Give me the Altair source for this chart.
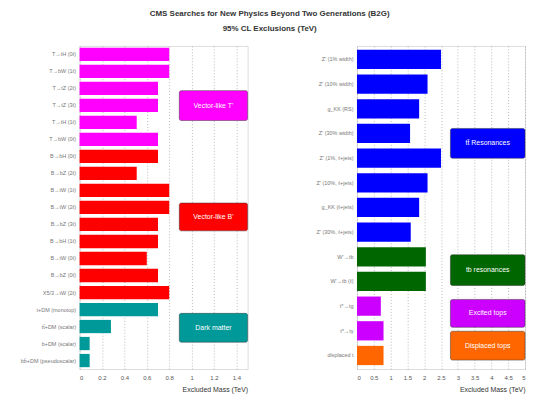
import altair as alt
import pandas as pd

FONT = "Liberation Sans"

# ---- left panel data ----
left_labels = [
    "T→tH (0ℓ)", "T→bW (1ℓ)", "T→tZ (2ℓ)", "T→tZ (3ℓ)", "T→tH (1ℓ)", "T→bW (0ℓ)",
    "B→bH (0ℓ)", "B→bZ (2ℓ)", "B→tW (1ℓ)", "B→tW (2ℓ)", "B→bZ (3ℓ)", "B→bH (1ℓ)",
    "B→tW (0ℓ)", "B→bZ (0ℓ)", "X5/3→tW (2ℓ)",
    "t+DM (monotop)", "tt̄+DM (scalar)", "b+DM (scalar)", "bb̄+DM (pseudoscalar)",
]
left_values = [0.80, 0.80, 0.70, 0.70, 0.51, 0.70,
               0.70, 0.51, 0.80, 0.80, 0.70, 0.70, 0.60, 0.70, 0.80,
               0.70, 0.28, 0.09, 0.09]
left_groups = ["T"] * 6 + ["B"] * 9 + ["DM"] * 4
left_ticks = [0, 0.2, 0.4, 0.6, 0.8, 1, 1.2, 1.4]
left_box_text = ["Vector-like T'", "Vector-like B'", "Dark matter"]
left_box_group = ["T", "B", "DM"]

# ---- right panel data ----
right_labels = [
    "Z' (1% width)", "Z' (10% width)", "g_KK (RS)", "Z' (30% width)",
    "Z' (1%, ℓ+jets)", "Z' (10%, ℓ+jets)", "g_KK (ℓ+jets)", "Z' (30%, ℓ+jets)",
    "W'→tb", "W'→tb (ℓ)", "t*→tg", "t*→tγ", "displaced t",
]
right_values = [2.5, 2.1, 1.85, 1.58, 2.5, 2.1, 1.85, 1.6, 2.05, 2.05, 0.71, 0.79, 0.79]
right_groups = ["tt"] * 8 + ["tb"] * 2 + ["ex"] * 2 + ["disp"]
right_ticks = [0, 0.5, 1, 1.5, 2, 2.5, 3, 3.5, 4, 4.5, 5]
right_box_text = ["tt̄ Resonances", "tb resonances", "Excited tops", "Displaced tops"]
right_box_group = ["tt", "tb", "ex", "disp"]

group_domain = ["T", "B", "DM", "tt", "tb", "ex", "disp"]
group_colors = ["#ff00ff", "#ff0000", "#009999", "#0000ff", "#006600", "#cc00ff", "#ff6600"]
color_scale = alt.Scale(domain=group_domain, range=group_colors)

W, H = 169, 325
XTITLE = "Excluded Mass (TeV)"


def panel(labels, values, groups, ticks, xmax, box_text, box_group, box_x0, box_px, extent, pin, pout):
    df = pd.DataFrame({"label": labels, "value": values, "group": groups})
    xscale = alt.Scale(domain=[0, xmax], nice=False, zero=True)
    xaxis = alt.Axis(values=ticks, grid=True, gridDash=[1, 2], gridColor="#aaa",
                     gridWidth=0.8, ticks=False, domain=False, format="~g",
                     labelFontSize=6, labelColor="#555", labelFont=FONT,
                     labelPadding=6, labelFlush=True, labelOverlap=False,
                     titleAnchor="end", titleFontSize=7, titleColor="#333",
                     titleFont=FONT, titleFontWeight="normal", titlePadding=5)
    bars = alt.Chart(df).mark_bar(opacity=1).encode(
        y=alt.Y("label:N", sort=None, title=None,
                scale=alt.Scale(paddingInner=pin, paddingOuter=pout),
                axis=alt.Axis(labelFontSize=5.5, labelColor="#777", labelFont=FONT,
                              ticks=False, domain=False, labelPadding=4,
                              minExtent=extent, maxExtent=extent, labelLimit=extent)),
        x=alt.X("value:Q", scale=xscale, title=XTITLE, axis=xaxis),
        color=alt.Color("group:N", scale=color_scale, legend=None),
    )
    layers = [bars]
    for txt, grp, (y0, y1) in zip(box_text, box_group, box_px):
        bdf = pd.DataFrame({"group": [grp], "txt": [txt], "x0": [box_x0], "x1": [xmax]})
        rect = alt.Chart(bdf).mark_rect(cornerRadius=2, stroke="#333", strokeWidth=0.8,
                                        strokeOpacity=0.6).encode(
            x=alt.X("x0:Q", scale=xscale, title=XTITLE, axis=xaxis), x2="x1:Q",
            y=alt.value(y0), y2=alt.value(y1),
            color=alt.Color("group:N", scale=color_scale, legend=None),
        )
        bdf2 = bdf.assign(xm=(box_x0 + xmax) / 2)
        text = alt.Chart(bdf2).mark_text(color="white", fontSize=7, font=FONT).encode(
            x=alt.X("xm:Q", scale=xscale, title=XTITLE, axis=xaxis),
            y=alt.value((y0 + y1) / 2), text="txt:N",
        )
        layers += [rect, text]
    return alt.layer(*layers).properties(width=W, height=H)


left = panel(left_labels, left_values, left_groups, left_ticks, 1.5,
             left_box_text, left_box_group, 0.89,
             [(45, 75), (158, 186), (269, 298)], 66, 0.22, 0.11)
right = panel(right_labels, right_values, right_groups, right_ticks, 5.0,
              right_box_text, right_box_group, 2.78,
              [(83, 113), (210, 241), (255, 283), (287, 316)], 58, 0.22, 0.16)

chart = alt.hconcat(left, right, spacing=50).properties(
    title=alt.TitleParams(
        text="CMS Searches for New Physics Beyond Two Generations (B2G)",
        subtitle="95% CL Exclusions (TeV)",
        anchor="middle", fontSize=8, subtitleFontSize=8, font=FONT, subtitleFont=FONT,
        fontWeight="bold", subtitleFontWeight="bold", color="#333", subtitleColor="#333",
        subtitlePadding=8, offset=12,
    ),
    padding={"left": 5, "top": 0, "right": 0, "bottom": 5},
).configure_view(stroke="black", strokeWidth=1.2).configure(background="white")

chart.save("out.html", embed_options={"renderer": "svg", "actions": False})
